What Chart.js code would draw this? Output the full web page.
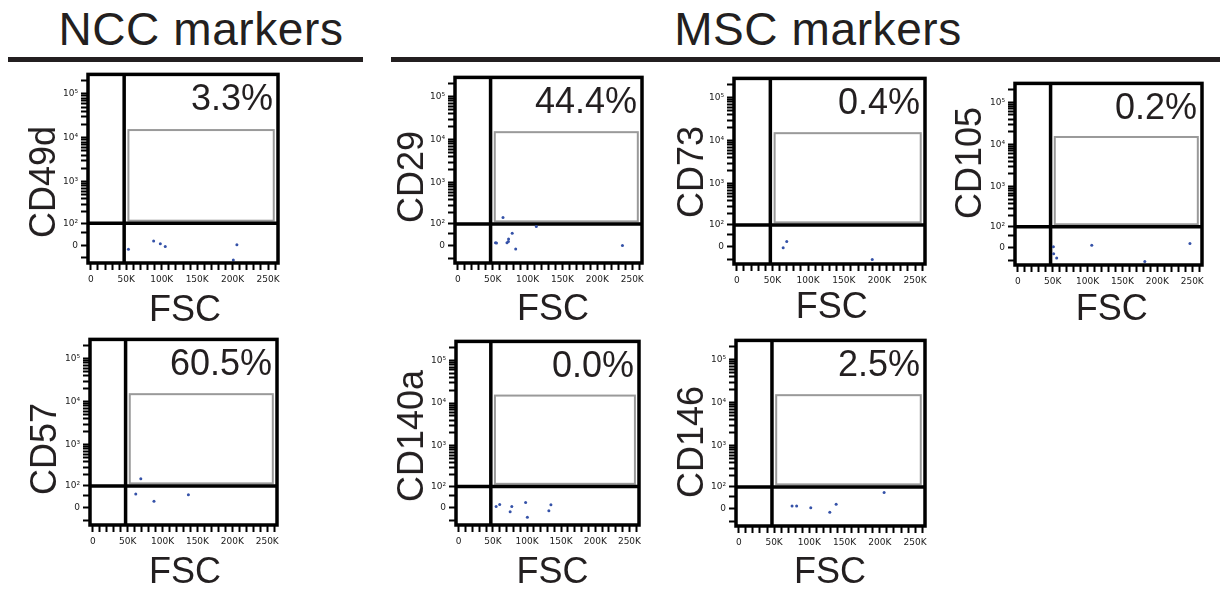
<!DOCTYPE html>
<html>
<head>
<meta charset="utf-8">
<script src="https://cdn.jsdelivr.net/npm/chart.js@4.4.1/dist/chart.umd.min.js"></script>
<style>
  html, body { margin: 0; padding: 0; background: #fff; }
  #fig { position: relative; width: 1220px; height: 595px; overflow: hidden;
         font-family: "Liberation Sans", Arial, Helvetica, sans-serif; color: #231f20; }
  #fig canvas { position: absolute; }
  .lbl { position: absolute; white-space: nowrap; font-size: 36px; line-height: 36px; }
  .hdr { position: absolute; white-space: nowrap; font-size: 46px; line-height: 46px; letter-spacing: 0.6px; }
  .rule { position: absolute; height: 5px; background: #231f20; }
</style>
</head>
<body>
<div id="fig"></div>
<script>
// ---- panel contents ------------------------------------------------------
const markers = ['CD49d', 'CD29', 'CD73', 'CD105', 'CD57', 'CD140a', 'CD146'];
const percentPositive = [3.3, 44.4, 0.4, 0.2, 60.5, 0.0, 2.5];

// events per panel: forward scatter and marker signal
const cd49dFsc  = [53000, 88600, 98000, 105000, 201000, 206000];
const cd49dSig  = [-15, 16, 6, -4, -60, 2];
const cd29Fsc   = [64800, 54000, 55500, 70500, 72800, 72500, 78000, 83000, 112500, 236000];
const cd29Sig   = [150, 11, 10, 11, 25, 15, 50, -13, 85, 0];
const cd73Fsc   = [65000, 70000, 190000];
const cd73Sig   = [-4, 19, -52];
const cd105Fsc  = [51000, 51400, 55700, 106000, 182000, 246700];
const cd105Sig  = [5, -23, -40, 10, -57, 17];
const cd57Fsc   = [68800, 61600, 87700, 137000];
const cd57Sig   = [155, 55, 24, 52];
const cd140aFsc = [54800, 60000, 77700, 75300, 98000, 100500, 132000, 135000];
const cd140aSig = [5, 12, 5, -15, 20, -37, -11, 11];
const cd146Fsc  = [75500, 82000, 102000, 129000, 138000, 206000];
const cd146Sig  = [10, 10, 3, -14, 16, 68];

const fscSeries = [cd49dFsc, cd29Fsc, cd73Fsc, cd105Fsc, cd57Fsc, cd140aFsc, cd146Fsc];
const sigSeries = [cd49dSig, cd29Sig, cd73Sig, cd105Sig, cd57Sig, cd140aSig, cd146Sig];

// gates (same for every panel)
const gateFsc = 47000;
const gateSig = 100;
const posGateFsc = [53000, 258000];
const posGateSig = [118, 15000];

// axes
const fscRange = [-4000, 264000];
const sigRange = [-75, 280000];
const fscMajorTicks = [0, 50000, 100000, 150000, 200000, 250000];
const fscTickLabels = ['0', '50K', '100K', '150K', '200K', '250K'];
const fscMinorTicks = [10000, 20000, 30000, 40000, 60000, 70000, 80000, 90000,
  110000, 120000, 130000, 140000, 160000, 170000, 180000, 190000,
  210000, 220000, 230000, 240000, 260000];
const sigMajorTicks = [0, 100, 1000, 10000, 100000];
const sigTickLabels = ['0', '10\u00B2', '10\u00B3', '10\u2074', '10\u2075'];
const sigMinorTicks = [-50, 50, 200, 300, 400, 500, 600, 700, 800, 900,
  2000, 3000, 4000, 5000, 6000, 7000, 8000, 9000,
  20000, 30000, 40000, 50000, 60000, 70000, 80000, 90000, 200000];

// ---- page layout (plot frame boxes and label anchors, px) -----------------
const frames = [
  { l: 88,   t: 74,  r: 278,  b: 263 },
  { l: 455,  t: 77,  r: 642,  b: 263 },
  { l: 734,  t: 78,  r: 925,  b: 264 },
  { l: 1015, t: 83,  r: 1202, b: 265 },
  { l: 90,   t: 339, r: 277,  b: 525 },
  { l: 456,  t: 341, r: 639,  b: 525 },
  { l: 736,  t: 340, r: 925,  b: 526 }
];
const yTitleAt = [[42.5, 182], [410.5, 177], [690.5, 172], [969, 163], [44, 449], [411, 436], [691, 442]];
const xTitleAt = [[185, 321.7], [553, 320], [831.7, 318.3], [1111.7, 320], [185, 583.3], [552.5, 583.3], [830, 583.3]];

// ---- biexponential-style display scale for the marker axis ----------------
const LN10 = Math.log(10);
const BIEX_W = 70;
const biex = v => Math.asinh(v / BIEX_W) / LN10;
const biexInv = t => BIEX_W * Math.sinh(t * LN10);

class BiexScale extends Chart.LinearScale {
  static id = 'biex';
  static defaults = {};
  buildTicks() {
    return sigMajorTicks.map(v => ({ value: v, major: true }))
      .concat(sigMinorTicks.map(v => ({ value: v, major: false })));
  }
  getPixelForValue(value) {
    const a = biex(this.min), b = biex(this.max);
    return this.getPixelForDecimal((biex(value) - a) / (b - a));
  }
  getValueForPixel(pixel) {
    const a = biex(this.min), b = biex(this.max);
    return biexInv(a + this.getDecimalForPixel(pixel) * (b - a));
  }
}
Chart.register(BiexScale);

// quadrant gate, positive gate box, frame and percentage
const gatePlugin = {
  id: 'gates',
  beforeDatasetsDraw(chart) {
    const { ctx, chartArea: a, scales: { x, y } } = chart;
    ctx.save();
    const bx0 = x.getPixelForValue(posGateFsc[0]);
    const bx1 = x.getPixelForValue(posGateFsc[1]);
    const by0 = y.getPixelForValue(posGateSig[0]);
    const by1 = y.getPixelForValue(posGateSig[1]);
    ctx.strokeStyle = '#9a9a9a';
    ctx.lineWidth = 2;
    ctx.strokeRect(bx0, by1, bx1 - bx0, by0 - by1);
    const gx = x.getPixelForValue(gateFsc);
    const gy = y.getPixelForValue(gateSig);
    ctx.strokeStyle = '#000';
    ctx.lineWidth = 3.5;
    ctx.beginPath();
    ctx.moveTo(gx, a.top); ctx.lineTo(gx, a.bottom);
    ctx.moveTo(a.left, gy); ctx.lineTo(a.right, gy);
    ctx.stroke();
    ctx.restore();
  },
  afterDatasetsDraw(chart, args, opts) {
    const { ctx, chartArea: a } = chart;
    ctx.save();
    ctx.strokeStyle = '#000';
    ctx.lineWidth = 3.5;
    ctx.strokeRect(a.left, a.top, a.right - a.left, a.bottom - a.top);
    ctx.fillStyle = '#231f20';
    ctx.font = '36px "Liberation Sans", Arial, sans-serif';
    ctx.textAlign = 'right';
    ctx.textBaseline = 'alphabetic';
    ctx.fillText(opts.percent.toFixed(1) + '%', a.right - 5, a.top + 36);
    ctx.restore();
  }
};

const fig = document.getElementById('fig');
const PAD_L = 50, PAD_T = 8, PAD_R = 8, PAD_B = 30;
const tickFont = { family: 'DejaVu Sans', size: 9 };

function addText(cls, text, css) {
  const d = document.createElement('div');
  d.className = cls;
  d.textContent = text;
  Object.assign(d.style, css);
  fig.appendChild(d);
  return d;
}

// section headers
addText('hdr', 'NCC markers', { left: '201px', top: '6px', transform: 'translateX(-50%)' });
addText('hdr', 'MSC markers', { left: '818px', top: '6px', transform: 'translateX(-50%)' });
addText('rule', '', { left: '8px', width: '355px', top: '57px' });
addText('rule', '', { left: '391px', width: '829px', top: '57px' });

markers.forEach((name, i) => {
  const f = frames[i];
  const w = f.r - f.l, h = f.b - f.t;
  const cv = document.createElement('canvas');
  cv.width = w + PAD_L + PAD_R;
  cv.height = h + PAD_T + PAD_B;
  cv.style.left = (f.l - PAD_L) + 'px';
  cv.style.top = (f.t - PAD_T) + 'px';
  fig.appendChild(cv);

  const pts = fscSeries[i].map((x, k) => ({ x: x, y: sigSeries[i][k] }));

  new Chart(cv, {
    type: 'scatter',
    data: {
      datasets: [{
        label: name,
        data: pts,
        pointRadius: 1.5,
        pointHoverRadius: 1.5,
        pointBackgroundColor: '#3552a8',
        pointBorderWidth: 0
      }]
    },
    options: {
      responsive: false,
      animation: false,
      devicePixelRatio: 1,
      layout: { padding: { top: PAD_T, right: PAD_R, left: 0, bottom: 0 } },
      plugins: {
        legend: { display: false },
        tooltip: { enabled: false },
        gates: { percent: percentPositive[i] }
      },
      scales: {
        x: {
          type: 'linear',
          min: fscRange[0],
          max: fscRange[1],
          afterFit: s => { s.height = PAD_B; },
          afterBuildTicks: s => {
            s.ticks = fscMajorTicks.map(v => ({ value: v, major: true }))
              .concat(fscMinorTicks.map(v => ({ value: v, major: false })));
          },
          ticks: {
            autoSkip: false,
            maxRotation: 0,
            padding: 4,
            font: tickFont,
            color: '#1a1a1a',
            callback: v => {
              const k = fscMajorTicks.indexOf(v);
              return k >= 0 ? fscTickLabels[k] : '';
            }
          },
          grid: { drawOnChartArea: false, drawTicks: true, tickLength: 7, tickColor: '#000', tickWidth: 2 },
          border: { display: false }
        },
        y: {
          type: 'biex',
          min: sigRange[0],
          max: sigRange[1],
          afterFit: s => { s.width = PAD_L; },
          ticks: {
            autoSkip: false,
            padding: 3,
            font: tickFont,
            color: '#1a1a1a',
            callback: v => {
              const k = sigMajorTicks.indexOf(v);
              return k >= 0 ? sigTickLabels[k] : '';
            }
          },
          grid: { drawOnChartArea: false, drawTicks: true, tickLength: 7, tickColor: '#000', tickWidth: 2 },
          border: { display: false }
        }
      }
    },
    plugins: [gatePlugin]
  });

  // axis titles
  addText('lbl', name, {
    left: yTitleAt[i][0] + 'px', top: yTitleAt[i][1] + 'px',
    transform: 'translate(-50%, -50%) rotate(-90deg)'
  });
  addText('lbl', 'FSC', {
    left: xTitleAt[i][0] + 'px', top: (xTitleAt[i][1] - 30.5) + 'px',
    transform: 'translateX(-50%)'
  });
});
</script>
</body>
</html>
